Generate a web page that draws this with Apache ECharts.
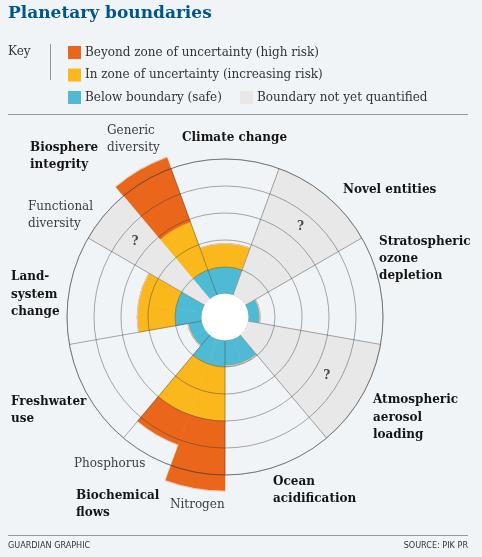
<!DOCTYPE html>
<html>
<head>
<meta charset="utf-8">
<script src="https://cdn.jsdelivr.net/npm/echarts@6/dist/echarts.min.js"></script>
<style>
  html, body { margin: 0; padding: 0; background: #f1f4f7; }
  #main { width: 482px; height: 557px; }
</style>
</head>
<body>
<div id="main"></div>
<script>
// nine boundaries, clockwise from the top
var boundaries = ['Climate change', 'Novel entities', 'Stratospheric ozone depletion',
  'Atmospheric aerosol loading', 'Ocean acidification', 'Biochemical flows',
  'Freshwater use', 'Land-system change', 'Biosphere integrity'];

// each boundary is split in two halves (biochemical flows and biosphere integrity have real sub-parts)
var segments = ['Climate change (1)', 'Climate change (2)', 'Novel entities (1)', 'Novel entities (2)',
  'Stratospheric ozone (1)', 'Stratospheric ozone (2)', 'Aerosol loading (1)', 'Aerosol loading (2)',
  'Ocean acidification (1)', 'Ocean acidification (2)', 'Nitrogen', 'Phosphorus',
  'Freshwater use (1)', 'Freshwater use (2)', 'Land-system change (1)', 'Land-system change (2)',
  'Functional diversity', 'Generic diversity'];

// values in ring units, stacked outward from the centre
var safe         = [1, 1, 0, 0, 0.45, 0.45, 0, 0, 0.97, 0.97, 1, 1, 0.55, 0.55, 1, 1, 0, 1];
var uncertain    = [0.87, 0.87, 0, 0, 0, 0, 0, 0, 0, 0, 2, 2, 0, 0, 1.4, 1.4, 0, 1.9];
var beyond       = [0, 0, 0, 0, 0, 0, 0, 0, 0, 0, 2.6, 1.2, 0, 0, 0, 0, 0, 2.55];
var unquantified = [0, 0, 5, 5, 0, 0, 5, 5, 0, 0, 0, 0, 0, 0, 0, 0, 5, 0];

var unknownMarks = ['Novel entities', 'Atmospheric aerosol loading', 'Functional diversity'];
var markRadius = 3.5;

var names = {
  beyond: 'Beyond zone of uncertainty (high risk)',
  uncertain: 'In zone of uncertainty (increasing risk)',
  safe: 'Below boundary (safe)',
  unknown: 'Boundary not yet quantified'
};
var colors = { beyond: '#e9661a', uncertain: '#fab81c', safe: '#4fbad4', unknown: '#e8e8e8' };

var serif = '"DejaVu Serif", "Liberation Serif", serif';
var gridColor = 'rgba(60,60,60,0.55)';

function text(str, x, y, opts) {
  opts = opts || {};
  var lh = opts.lh || 17;
  return {
    type: 'text', x: x, y: y - lh / 2, z: 20,
    style: {
      text: str,
      font: (opts.weight || 'bold') + ' ' + (opts.size || 12) + 'px ' + serif,
      fill: opts.color || '#151515',
      lineHeight: lh,
      verticalAlign: 'top',
      align: opts.align || 'left'
    }
  };
}

function barSeries(key, values) {
  return {
    type: 'bar',
    name: names[key],
    data: values,
    coordinateSystem: 'polar',
    polarIndex: 0,
    stack: 'b',
    barCategoryGap: '0%',
    clip: false,
    silent: true,
    itemStyle: { color: colors[key], borderColor: colors[key], borderWidth: 0.5 }
  };
}

var myChart = echarts.init(document.getElementById('main'));

var option = {
  backgroundColor: '#f1f4f7',
  animation: false,
  polar: [
    { center: [225, 317], radius: [23, 158] },
    { center: [225, 317], radius: [23, 158] }
  ],
  angleAxis: [
    {
      polarIndex: 0, type: 'category', data: segments, startAngle: 110,
      axisLine: { show: false }, axisTick: { show: false }, axisLabel: { show: false },
      splitLine: { show: false }
    },
    {
      // grid drawn on its own layer so it shows over the bars
      polarIndex: 1, type: 'category', data: boundaries, startAngle: 110, zlevel: 1, z: 5,
      axisLine: { show: true, lineStyle: { color: gridColor, width: 0.8 } },
      axisTick: { show: false }, axisLabel: { show: false },
      splitLine: { show: true, lineStyle: { color: gridColor, width: 0.8 } }
    }
  ],
  radiusAxis: [
    {
      polarIndex: 0, type: 'value', min: 0, max: 5, interval: 1,
      axisLine: { show: false }, axisTick: { show: false }, axisLabel: { show: false },
      splitLine: { show: false }
    },
    {
      polarIndex: 1, type: 'value', min: 0, max: 5, interval: 1, zlevel: 1, z: 5,
      axisLine: { show: false }, axisTick: { show: false }, axisLabel: { show: false },
      splitLine: { show: true, lineStyle: { color: gridColor, width: 0.8 } }
    }
  ],
  legend: [
    {
      data: [names.beyond, names.uncertain, names.safe],
      orient: 'vertical', left: 68, top: 46, padding: 0,
      itemWidth: 11, itemHeight: 11, itemGap: 9.5,
      icon: 'rect', selectedMode: false,
      textStyle: { fontFamily: serif, fontSize: 12, lineHeight: 13, color: '#333' }
    },
    {
      data: [names.unknown],
      orient: 'horizontal', left: 240, top: 91, padding: 0,
      itemWidth: 11, itemHeight: 11,
      icon: 'rect', selectedMode: false,
      textStyle: { fontFamily: serif, fontSize: 12, lineHeight: 13, color: '#333' }
    }
  ],
  series: [
    barSeries('safe', safe),
    barSeries('uncertain', uncertain),
    barSeries('beyond', beyond),
    barSeries('unknown', unquantified),
    {
      type: 'scatter', coordinateSystem: 'polar', polarIndex: 1, zlevel: 1, z: 8, silent: true,
      symbolSize: 1, itemStyle: { color: 'rgba(0,0,0,0)' },
      data: unknownMarks.filter(function (n) { return boundaries.indexOf(n) >= 0; })
        .map(function (n) { return [markRadius, n]; }),
      label: { show: true, position: 'inside', formatter: '?',
        fontFamily: serif, fontWeight: 'bold', fontSize: 12, color: '#222' }
    },
    {
      type: 'scatter', coordinateSystem: 'polar', polarIndex: 0, zlevel: 1, z: 8, silent: true,
      symbolSize: 1, itemStyle: { color: 'rgba(0,0,0,0)' },
      data: unknownMarks.filter(function (n) { return segments.indexOf(n) >= 0; })
        .map(function (n) { return [markRadius, n]; }),
      label: { show: true, position: 'inside', formatter: '?',
        fontFamily: serif, fontWeight: 'bold', fontSize: 12, color: '#222' }
    },
    {
      // white hole in the middle
      type: 'pie', center: [225, 317], radius: [0, 23.6], zlevel: 1, z: 10, silent: true,
      label: { show: false }, labelLine: { show: false },
      itemStyle: { color: '#ffffff' },
      data: [{ value: 1, name: 'hole' }]
    }
  ],
  graphic: [
    text('Planetary boundaries', 8, 14, { size: 17, lh: 22, color: '#005689' }),
    text('Key', 8, 52, { weight: 'normal', size: 12, color: '#333' }),
    { type: 'line', shape: { x1: 50.5, y1: 44, x2: 50.5, y2: 80 }, style: { stroke: '#999', lineWidth: 1 } },
    { type: 'line', shape: { x1: 8, y1: 114.5, x2: 468, y2: 114.5 }, style: { stroke: '#999', lineWidth: 1 } },
    { type: 'line', shape: { x1: 8, y1: 535.5, x2: 468, y2: 535.5 }, style: { stroke: '#999', lineWidth: 1 } },

    text('Climate change', 182, 138),
    text('Novel entities', 343, 190),
    text('Stratospheric\nozone\ndepletion', 379, 242),
    text('Atmospheric\naerosol\nloading', 373, 400, { lh: 17.5 }),
    text('Ocean\nacidification', 273, 482, { lh: 16.5 }),
    text('Biochemical\nflows', 76, 496),
    text('Freshwater\nuse', 11, 402),
    text('Land-\nsystem\nchange', 11, 277, { lh: 17.5 }),
    text('Biosphere\nintegrity', 30, 148),

    text('Generic\ndiversity', 107, 131, { weight: 'normal', lh: 16.5, color: '#3c3c3c' }),
    text('Functional\ndiversity', 28, 207, { weight: 'normal', color: '#3c3c3c' }),
    text('Phosphorus', 74, 464, { weight: 'normal', color: '#3c3c3c' }),
    text('Nitrogen', 170, 505, { weight: 'normal', color: '#3c3c3c' }),

    {
      type: 'text', x: 8, y: 546, z: 20,
      style: { text: 'GUARDIAN GRAPHIC', font: '9px "Liberation Sans Narrow", "DejaVu Sans Condensed", Roboto, sans-serif',
        fill: '#333', verticalAlign: 'middle' }
    },
    {
      type: 'text', x: 468, y: 546, z: 20,
      style: { text: 'SOURCE: PIK PR', font: '9px "Liberation Sans Narrow", "DejaVu Sans Condensed", Roboto, sans-serif',
        fill: '#333', verticalAlign: 'middle', align: 'right' }
    }
  ]
};

option && myChart.setOption(option);
</script>
</body>
</html>
